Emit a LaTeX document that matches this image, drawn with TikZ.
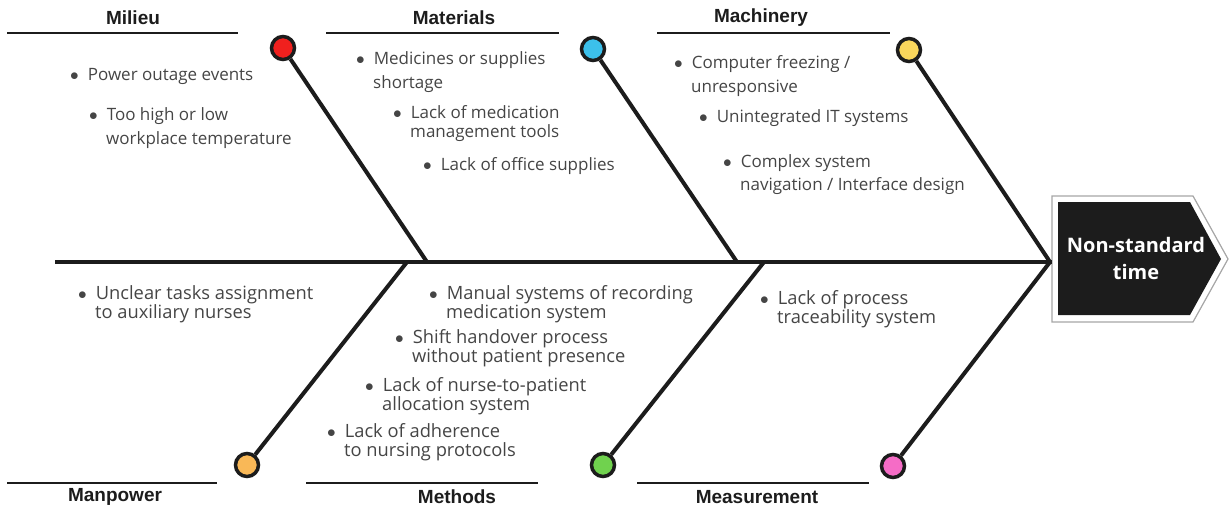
\documentclass[tikz,border=0pt]{standalone}
\usepackage{fontspec}
\setmainfont{Open Sans}
\newfontfamily\headfam{Liberation Sans}
\usepackage{tikz}
\usetikzlibrary{arrows.meta}

\definecolor{milieucol}{HTML}{F0201E}
\definecolor{materialcol}{HTML}{3CC0EB}
\definecolor{machinecol}{HTML}{F9D65C}
\definecolor{manpowercol}{HTML}{F9B857}
\definecolor{methodcol}{HTML}{70D24E}
\definecolor{measurecol}{HTML}{F56CC6}
\definecolor{inkcol}{HTML}{1C1C1C}
\definecolor{textcol}{HTML}{454545}

\newcommand\bul{$\bullet$\hspace{9pt}}
\newcommand\hang{\hspace{17pt}}

\begin{document}
\begin{tikzpicture}[x=1pt,y=-1pt,
    bone/.style={line width=4pt,inkcol},
    knot/.style={circle,draw=inkcol,line width=3.5pt,minimum size=23pt,inner sep=0pt},
    cathead/.style={font=\headfam\bfseries\fontsize{19}{22}\selectfont,text=inkcol},
    catline/.style={line width=1.3pt,inkcol},
    cause/.style={anchor=base west,inner sep=0pt,align=left,text=textcol,
        font=\fontsize{17}{19}\selectfont},
    widecause/.style={cause,font=\fontsize{17}{24}\selectfont},
    lowcause/.style={cause,font=\fontsize{18.3}{19}\selectfont}
]
\useasboundingbox (0,0) rectangle (1229,509);

% Head of the fish
\draw[gray!70,line width=1.2pt] (1052,196) -- (1193,196) -- (1228,259)
    -- (1193,322) -- (1052,322) -- cycle;
\fill[inkcol] (1058,202) -- (1190,202) -- (1221,259) -- (1190,315)
    -- (1058,315) -- cycle;
\node[align=center,text=white,font=\bfseries\fontsize{20}{27}\selectfont]
    (head) at (1136,258) {Non-standard\\time};

% Spine
\coordinate (tail) at (55,262);
\coordinate (neck) at (1052,262);
\draw[bone] (tail) -- (neck);

% Where the bones meet the spine
\coordinate (jmil) at (427,262);
\coordinate (jmat) at (737,262);
\coordinate (jmac) at (1050,262);
\coordinate (jman) at (407,262);
\coordinate (jmet) at (764,262);
\coordinate (jmea) at (1050,262);

% Knots at the end of each bone
\node[knot,fill=milieucol] (milieu) at (283,48) {};
\node[knot,fill=materialcol] (materials) at (593,49) {};
\node[knot,fill=machinecol] (machinery) at (909,50) {};
\node[knot,fill=manpowercol] (manpower) at (247,465) {};
\node[knot,fill=methodcol] (methods) at (603,465) {};
\node[knot,fill=measurecol] (measurement) at (893,466) {};

% Bones
\draw[bone] (milieu) -- (jmil);
\draw[bone] (materials) -- (jmat);
\draw[bone] (machinery) -- (jmac);
\draw[bone] (manpower) -- (jman);
\draw[bone] (methods) -- (jmet);
\draw[bone] (measurement) -- (jmea);

% Category titles and rules
\draw[catline] (7,33) -- (238,33);
\node[cathead] (tmil) at (133,18) {Milieu};
\draw[catline] (326,33) -- (559,33);
\node[cathead] (tmat) at (454,18) {Materials};
\draw[catline] (657,33) -- (890,33);
\node[cathead] (tmac) at (761,18) {Machinery};
\draw[catline] (7,483) -- (217,483);
\node[cathead] (tman) at (115,497) {Manpower};
\draw[catline] (306,483) -- (538,483);
\node[cathead] (tmet) at (457,497) {Methods};
\draw[catline] (637,483) -- (869,483);
\node[cathead] (tmea) at (757,497) {Measurement};

% Milieu causes (anchored on the last line)
\node[cause] (mil1) at (70,80) {\bul Power outage events};
\node[widecause] (mil2) at (89,144) {\bul Too high or low\\\hang workplace temperature};

% Materials causes
\node[widecause] (mat1) at (356,88) {\bul Medicines or supplies\\\hang shortage};
\node[cause] (mat2) at (393,137) {\bul Lack of medication\\\hang management tools};
\node[cause] (mat3) at (423,170) {\bul Lack of office supplies};

% Machinery causes
\node[widecause] (mac1) at (674,92) {\bul Computer freezing /\\\hang unresponsive};
\node[cause] (mac2) at (699,122) {\bul Unintegrated IT systems};
\node[cause,font=\fontsize{17}{23}\selectfont] (mac3) at (723,190)
    {\bul Complex system\\\hang navigation / Interface design};

% Manpower causes
\node[lowcause] (man1) at (78,318) {\bul Unclear tasks assignment\\\hang to auxiliary nurses};

% Methods causes
\node[lowcause] (met1) at (429,318) {\bul Manual systems of recording\\\hang medication system};
\node[lowcause] (met2) at (395,362) {\bul Shift handover process\\\hang without patient presence};
\node[lowcause] (met3) at (365,410) {\bul Lack of nurse-to-patient\\\hang allocation system};
\node[lowcause] (met4) at (327,456) {\bul Lack of adherence\\\hang to nursing protocols};

% Measurement causes
\node[lowcause] (mea1) at (760,323) {\bul Lack of process\\\hang traceability system};

\end{tikzpicture}
\end{document}
